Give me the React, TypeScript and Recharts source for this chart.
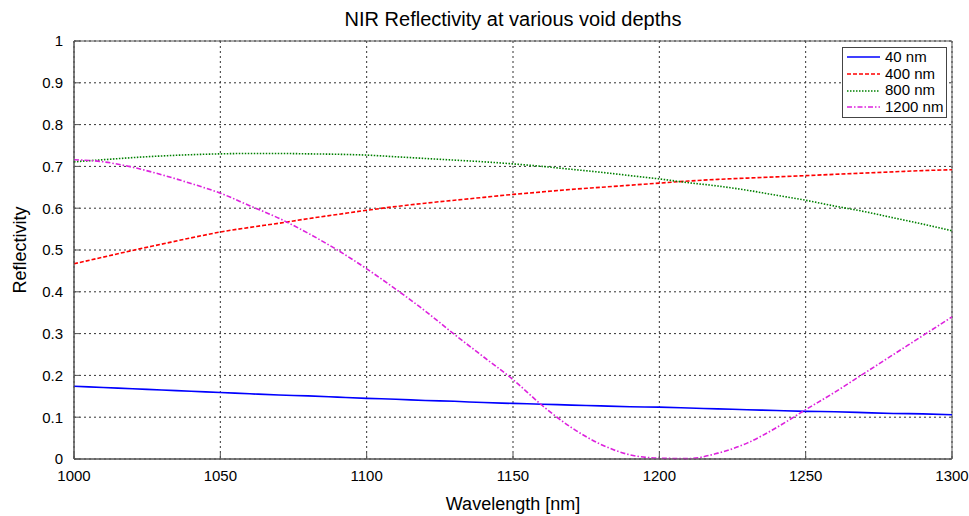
import React from 'react';
import {
  LineChart,
  Line,
  XAxis,
  YAxis,
  CartesianGrid,
  ReferenceArea
} from 'recharts';

const wavelengths = [
  1000, 1010, 1020, 1030, 1040, 1050, 1060, 1070, 1080, 1090, 1100,
  1110, 1120, 1130, 1140, 1150, 1160, 1170, 1180, 1190, 1200,
  1210, 1220, 1230, 1240, 1250, 1260, 1270, 1280, 1290, 1300
];

const depth40 = [
  0.174, 0.171, 0.168, 0.165, 0.162, 0.159, 0.156, 0.153, 0.151, 0.148, 0.145,
  0.143, 0.14, 0.138, 0.135, 0.133, 0.131, 0.129, 0.127, 0.125, 0.124,
  0.122, 0.12, 0.118, 0.116, 0.114, 0.113, 0.111, 0.109, 0.108, 0.106
];

const depth400 = [
  0.467, 0.483, 0.499, 0.514, 0.529, 0.543, 0.554, 0.564, 0.575, 0.585, 0.595,
  0.604, 0.612, 0.619, 0.626, 0.633, 0.639, 0.645, 0.65, 0.655, 0.66,
  0.665, 0.669, 0.672, 0.675, 0.678, 0.681, 0.684, 0.687, 0.69, 0.692
];

const depth800 = [
  0.711, 0.716, 0.721, 0.725, 0.728, 0.73, 0.731, 0.731, 0.73, 0.729, 0.727,
  0.723, 0.719, 0.715, 0.711, 0.706, 0.7, 0.693, 0.686, 0.678, 0.67,
  0.661, 0.653, 0.643, 0.631, 0.619, 0.605, 0.592, 0.577, 0.562, 0.546
];

const depth1200 = [
  0.716, 0.711, 0.698, 0.68, 0.659, 0.636, 0.606, 0.576, 0.54, 0.5, 0.455,
  0.406, 0.354, 0.298, 0.244, 0.19, 0.128, 0.075, 0.035, 0.01, 0.002,
  0.001, 0.014, 0.038, 0.075, 0.118, 0.16, 0.205, 0.25, 0.295, 0.34
];

const xTicks = [1000, 1050, 1100, 1150, 1200, 1250, 1300];
const yTicks = [0, 0.1, 0.2, 0.3, 0.4, 0.5, 0.6, 0.7, 0.8, 0.9, 1];

const data = wavelengths.map((wl, i) => ({
  wl,
  d40: depth40[i],
  d400: depth400[i],
  d800: depth800[i],
  d1200: depth1200[i]
}));

const series = [
  { key: 'd40', name: '40 nm', color: '#0000ff', dash: undefined },
  { key: 'd400', name: '400 nm', color: '#ff0000', dash: '4 2' },
  { key: 'd800', name: '800 nm', color: '#008000', dash: '1.5 1.5' },
  { key: 'd1200', name: '1200 nm', color: '#dd22dd', dash: '5 2 1.5 2' }
];

const FONT = '"Liberation Sans", Arial, sans-serif';

// legend drawn as an overlay so it doesn't shrink the plot
const LegendBox = () => (
  <div
    style={{
      position: 'absolute',
      left: 842,
      top: 47,
      width: 105,
      boxSizing: 'border-box',
      background: '#fff',
      border: '1px solid #444',
      padding: '1px 0 1px 4px',
      fontFamily: FONT,
      fontSize: 15,
      lineHeight: '16.7px',
      color: '#000',
      whiteSpace: 'nowrap'
    }}
  >
    {series.map((s) => (
      <div key={s.key} style={{ display: 'flex', alignItems: 'center' }}>
        <svg width={33} height={10} style={{ marginRight: 5, flexShrink: 0 }}>
          <line x1={0} y1={5} x2={33} y2={5} stroke={s.color} strokeWidth={1.5} strokeDasharray={s.dash} />
        </svg>
        <span>{s.name}</span>
      </div>
    ))}
  </div>
);

export default function App() {
  return (
    <div style={{ position: 'absolute', left: 0, top: 0, width: 969, height: 516, background: '#fff' }}>
      <div
        style={{
          position: 'absolute',
          left: 74,
          width: 878,
          top: 8,
          textAlign: 'center',
          fontFamily: FONT,
          fontSize: 20,
          color: '#000'
        }}
      >
        NIR Reflectivity at various void depths
      </div>
      <LineChart
        width={969}
        height={516}
        data={data}
        margin={{ top: 41, right: 17, left: 0, bottom: 0 }}
        style={{ fontFamily: FONT }}
      >
        <CartesianGrid stroke="#333" strokeDasharray="2 3" horizontalValues={yTicks} verticalValues={xTicks} />
        <ReferenceArea x1={1000} x2={1300} y1={0} y2={1} fill="none" stroke="#555" strokeWidth={1} ifOverflow="visible" />
        <XAxis
          dataKey="wl"
          type="number"
          domain={[1000, 1300]}
          ticks={xTicks}
          interval={0}
          height={57}
          tickSize={-6}
          tickMargin={17}
          stroke="#555"
          tick={{ fill: '#000', fontSize: 15 }}
          label={{ value: 'Wavelength [nm]', position: 'insideBottom', offset: 6, fill: '#000', fontSize: 18 }}
        />
        <XAxis
          xAxisId="top"
          orientation="top"
          type="number"
          domain={[1000, 1300]}
          ticks={xTicks}
          height={0}
          tickSize={-6}
          tick={false}
          stroke="#555"
        />
        <YAxis
          type="number"
          domain={[0, 1]}
          ticks={yTicks}
          interval={0}
          width={74}
          tickSize={-6}
          tickMargin={17}
          stroke="#555"
          tickFormatter={(v: number) => String(v)}
          tick={{ fill: '#000', fontSize: 15 }}
          label={{ value: 'Reflectivity', angle: -90, position: 'insideLeft', offset: 20, fill: '#000', fontSize: 18, style: { textAnchor: 'middle' } }}
        />
        <YAxis
          yAxisId="right"
          orientation="right"
          type="number"
          domain={[0, 1]}
          ticks={yTicks}
          width={0}
          tickSize={-6}
          tick={false}
          stroke="#555"
        />
        {series.map((s) => (
          <Line
            key={s.key}
            type="monotone"
            dataKey={s.key}
            name={s.name}
            stroke={s.color}
            strokeWidth={1.6}
            strokeDasharray={s.dash}
            dot={false}
            activeDot={false}
            isAnimationActive={false}
          />
        ))}
      </LineChart>
      <LegendBox />
    </div>
  );
}
